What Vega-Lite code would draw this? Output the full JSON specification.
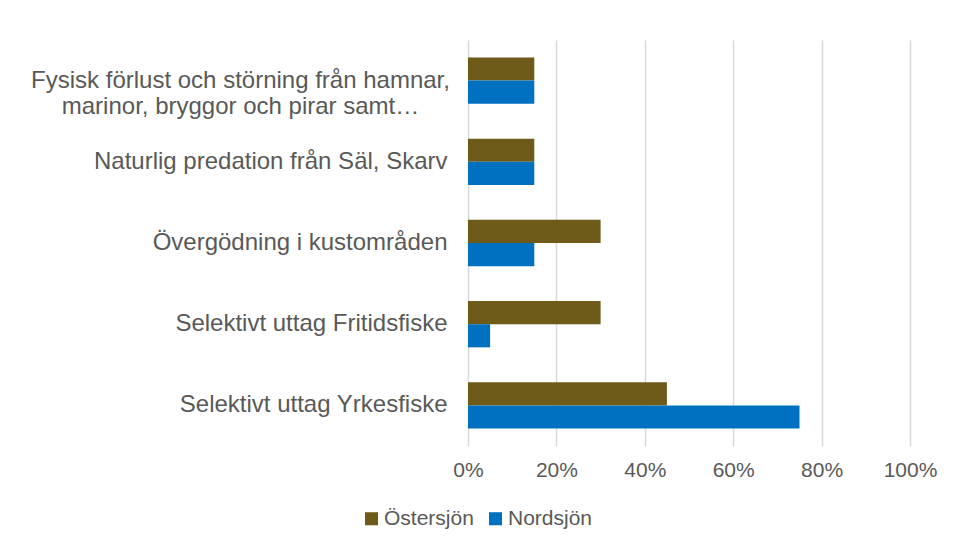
{
  "$schema": "https://vega.github.io/schema/vega-lite/v6.json",
  "width": 442,
  "height": 406,
  "autosize": {"type": "none"},
  "padding": {"left": 468, "top": 40, "right": 46, "bottom": 110},
  "background": "white",
  "config": {
    "font": "Liberation Sans",
    "view": {"stroke": null}
  },
  "data": {
    "values": [
      {"kategori": "Fysisk förlust och störning från hamnar, marinor, bryggor och pirar samt…", "hav": "Östersjön", "andel": 0.15},
      {"kategori": "Fysisk förlust och störning från hamnar, marinor, bryggor och pirar samt…", "hav": "Nordsjön", "andel": 0.15},
      {"kategori": "Naturlig predation från Säl, Skarv", "hav": "Östersjön", "andel": 0.15},
      {"kategori": "Naturlig predation från Säl, Skarv", "hav": "Nordsjön", "andel": 0.15},
      {"kategori": "Övergödning i kustområden", "hav": "Östersjön", "andel": 0.30},
      {"kategori": "Övergödning i kustområden", "hav": "Nordsjön", "andel": 0.15},
      {"kategori": "Selektivt uttag Fritidsfiske", "hav": "Östersjön", "andel": 0.30},
      {"kategori": "Selektivt uttag Fritidsfiske", "hav": "Nordsjön", "andel": 0.05},
      {"kategori": "Selektivt uttag Yrkesfiske", "hav": "Östersjön", "andel": 0.45},
      {"kategori": "Selektivt uttag Yrkesfiske", "hav": "Nordsjön", "andel": 0.75}
    ]
  },
  "mark": {"type": "bar"},
  "encoding": {
    "y": {
      "field": "kategori",
      "type": "nominal",
      "sort": null,
      "scale": {"paddingInner": 0.43, "paddingOuter": 0.215},
      "axis": {
        "title": null,
        "domain": false,
        "ticks": false,
        "labelPadding": {"condition": {"test": "indexof(datum.label, 'marinor') >= 0", "value": 228}, "value": 21},
        "labelAlign": {"condition": {"test": "indexof(datum.label, 'marinor') >= 0", "value": "center"}, "value": "right"},
        "labelFontSize": 24,
        "labelColor": "#595959",
        "labelLimit": 600,
        "labelLineHeight": 26,
        "labelExpr": "split(replace(datum.label, ', marinor', ',|marinor'), '|')"
      }
    },
    "yOffset": {
      "field": "hav",
      "type": "nominal",
      "sort": ["Östersjön", "Nordsjön"]
    },
    "x": {
      "field": "andel",
      "type": "quantitative",
      "scale": {"domain": [0, 1]},
      "axis": {
        "title": null,
        "format": ".0%",
        "values": [0, 0.2, 0.4, 0.6, 0.8, 1],
        "domain": false,
        "ticks": false,
        "grid": true,
        "gridColor": "#d9d9d9",
        "gridWidth": 1.5,
        "labelFlush": false,
        "labelOverlap": false,
        "labelPadding": 13,
        "labelFontSize": 21,
        "labelColor": "#595959"
      }
    },
    "color": {
      "field": "hav",
      "type": "nominal",
      "sort": ["Östersjön", "Nordsjön"],
      "scale": {"domain": ["Östersjön", "Nordsjön"], "range": ["#6e5b1a", "#0070c0"]},
      "legend": {
        "title": null,
        "orient": "none",
        "direction": "horizontal",
        "legendX": -107,
        "legendY": 468,
        "symbolType": "square",
        "symbolSize": 170,
        "symbolStrokeWidth": 0,
        "labelFontSize": 21,
        "labelColor": "#595959",
        "labelOffset": 2,
        "columnPadding": 11
      }
    }
  }
}
